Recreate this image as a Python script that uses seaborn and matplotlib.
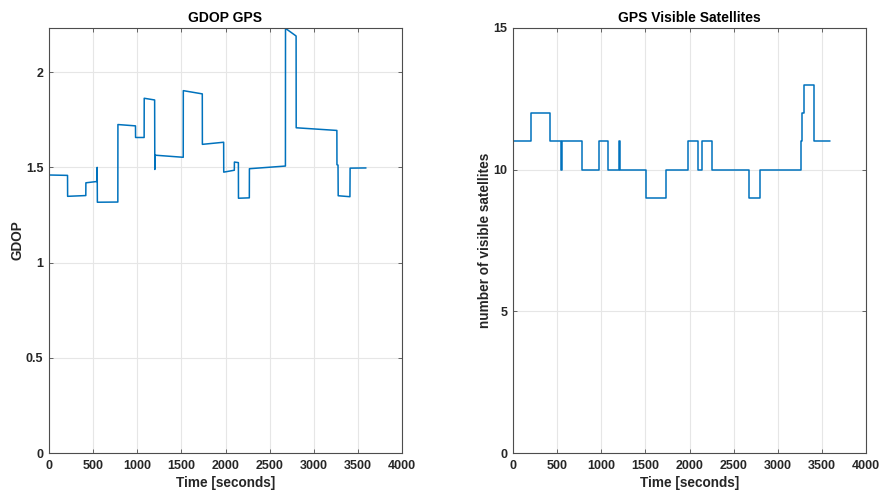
import matplotlib
matplotlib.use("Agg")
import matplotlib.pyplot as plt
import seaborn as sns
import pandas as pd

# ---------------- data ----------------
gdop_time = [0, 210, 211, 417, 418, 545, 546, 548, 780, 781, 980, 981, 1078, 1079,
             1197, 1199, 1203, 1521, 1522, 1737, 1738, 1979, 1980, 2100, 2101, 2146,
             2147, 2270, 2271, 2679, 2680, 2800, 2801, 3262, 3263, 3275, 3277, 3410,
             3412, 3592]
gdop_value = [1.460, 1.458, 1.348, 1.352, 1.419, 1.426, 1.500, 1.317, 1.318, 1.725,
              1.718, 1.657, 1.657, 1.863, 1.854, 1.489, 1.564, 1.553, 1.903, 1.886,
              1.621, 1.632, 1.475, 1.485, 1.528, 1.525, 1.338, 1.340, 1.493, 1.507,
              2.230, 2.190, 1.708, 1.694, 1.514, 1.512, 1.351, 1.346, 1.496, 1.497]

sat_time = [0, 208, 424, 546, 551, 782, 979, 1078, 1203, 1212, 1512, 1731, 1984,
            2098, 2136, 2260, 2676, 2797, 3258, 3277, 3296, 3409, 3590]
sat_value = [11, 12, 11, 10, 11, 10, 11, 10, 11, 10, 9, 10, 11, 10, 11, 10, 9, 10,
             11, 12, 13, 11, 11]

x_ticks = [0, 500, 1000, 1500, 2000, 2500, 3000, 3500, 4000]
gdop_ticks = [0, 0.5, 1, 1.5, 2]
sat_ticks = [0, 5, 10, 15]

titles = ["GDOP GPS", "GPS Visible Satellites"]
ylabels = ["GDOP", "number of visible satellites"]
xlabel = "Time [seconds]"

# ---------------- style ----------------
sns.set_theme(style="white")
plt.rcParams["font.family"] = ["Liberation Sans", "DejaVu Sans"]
plt.rcParams["font.weight"] = "bold"

line_color = "#0072BD"
spine_color = "#4d4d4d"

fig = plt.figure(figsize=(8.8, 4.91), dpi=100)
ax1 = fig.add_axes([49 / 880, 38 / 491, 353 / 880, 425 / 491])
ax2 = fig.add_axes([513 / 880, 38 / 491, 353 / 880, 425 / 491])

df_g = pd.DataFrame({"t": gdop_time, "v": gdop_value})
df_s = pd.DataFrame({"t": sat_time, "v": sat_value})

sns.lineplot(data=df_g, x="t", y="v", ax=ax1, estimator=None, sort=False,
             color=line_color, linewidth=1.1)
sns.lineplot(data=df_s, x="t", y="v", ax=ax2, estimator=None, sort=False,
             color=line_color, linewidth=1.1, drawstyle="steps-post")

for ax, title, ylabel, yticks, ylim in [
    (ax1, titles[0], ylabels[0], gdop_ticks, (0, 2.232)),
    (ax2, titles[1], ylabels[1], sat_ticks, (0, 15)),
]:
    ax.set_xlim(0, 4000)
    ax.set_ylim(*ylim)
    ax.set_xticks(x_ticks)
    ax.set_yticks(yticks)
    ax.set_xticklabels([str(v) for v in x_ticks], fontsize=9, fontweight="bold",
                       color="#262626")
    ax.set_yticklabels([("%g" % v) for v in yticks], fontsize=9, fontweight="bold",
                       color="#262626")
    ax.set_title(title, fontsize=10, fontweight="bold", pad=4, color="black")
    ax.set_xlabel(xlabel, fontsize=9.8, fontweight="bold", labelpad=3, color="#262626")
    ax.set_ylabel(ylabel, fontsize=9.8, fontweight="bold", labelpad=1, color="#262626")
    ax.grid(True, color="#e6e6e6", linewidth=0.8)
    ax.set_axisbelow(True)
    for s in ax.spines.values():
        s.set_visible(True)
        s.set_color(spine_color)
        s.set_linewidth(0.8)
    ax.tick_params(direction="in", length=3, width=0.6, color=spine_color,
                   top=True, right=True, bottom=True, left=True)
    ax.tick_params(axis="x", pad=5)
    ax.tick_params(axis="y", pad=4)

fig.savefig("out.png", dpi=100)
